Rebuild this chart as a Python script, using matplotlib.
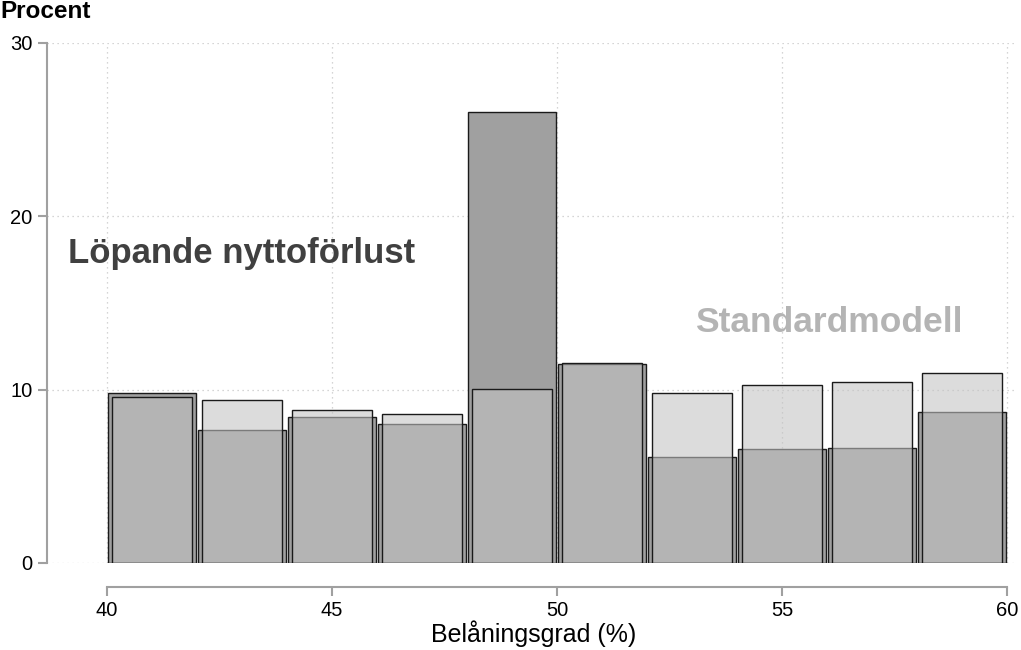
import numpy as np
import matplotlib.pyplot as plt

plt.rcParams['font.family'] = ['Liberation Sans', 'DejaVu Sans']

# bin centres (2-point bins from 40 to 60)
bins = [41, 43, 45, 47, 49, 51, 53, 55, 57, 59]
# Löpande nyttoförlust (dark)
lopande = [9.83, 7.69, 8.42, 8.02, 26.0, 11.46, 6.13, 6.60, 6.63, 8.73]
# Standardmodell (light)
standard = [9.56, 9.42, 8.85, 8.60, 10.06, 11.54, 9.83, 10.25, 10.44, 10.98]

yticks = [0, 10, 20, 30]
xticks = [40, 45, 50, 55, 60]

fig = plt.figure(figsize=(10.21, 6.5), dpi=100)
ax = fig.add_axes([47 / 1021, 87 / 650, (1015 - 47) / 1021, 520 / 650])

# dark bars first, light semi-transparent bars on top
ax.bar(bins, lopande, width=1.97, color='#a0a0a0', edgecolor='#1a1a1a',
       linewidth=1.0, zorder=2)
ax.bar(bins, standard, width=1.78, facecolor=(0.765, 0.765, 0.765, 0.58),
       edgecolor='#1a1a1a', linewidth=1.0, zorder=3)

ax.set_xlim(40 - 60 / 45, 60 + 8 / 45)
ax.set_ylim(0, 30)

ax.set_xticks(xticks)
ax.set_yticks(yticks)
ax.grid(True, linestyle=(0, (1, 3)), color='#c8c8c8', linewidth=0.9, zorder=0)

for s in ['top', 'right']:
    ax.spines[s].set_visible(False)
ax.spines['left'].set_color('#a0a0a0')
ax.spines['bottom'].set_color('#a0a0a0')
ax.spines['left'].set_bounds(0, 30)
ax.spines['bottom'].set_bounds(40, 60)
ax.spines['bottom'].set_position(('outward', 17))
ax.spines['left'].set_linewidth(1.5)
ax.spines['bottom'].set_linewidth(1.5)
ax.tick_params(axis='both', colors='#a0a0a0', labelcolor='black',
               labelsize=14.5, length=6.5, width=1.5)
ax.tick_params(axis='y', pad=4)
ax.tick_params(axis='x', pad=3.5)

fig.text(534 / 1021, 1 - 634 / 650, 'Belåningsgrad (%)', fontsize=18,
         ha='center', va='center')
fig.text(0, 1 - 12 / 650, 'Procent', fontsize=17.5, fontweight='bold',
         ha='left', va='center')

ax.text(39.13, 17.83, 'Löpande nyttoförlust', fontsize=25, fontweight='bold',
        color='#404040', ha='left', va='center', zorder=4)
ax.text(53.07, 13.9, 'Standardmodell', fontsize=25.5, fontweight='bold',
        color='#b4b4b4', ha='left', va='center', zorder=4)

fig.savefig('out.png', dpi=100)
